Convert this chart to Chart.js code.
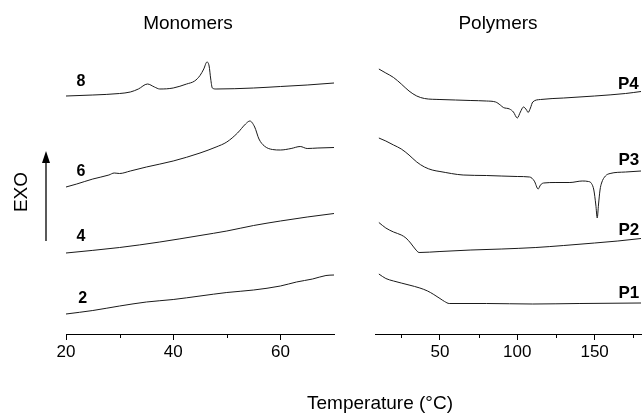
<!DOCTYPE html>
<html>
<head>
<meta charset="utf-8">
<script src="https://cdn.jsdelivr.net/npm/chart.js@4/dist/chart.umd.min.js"></script>
<style>
    body { margin: 0; background: #fff; }
    #wrap { position: relative; width: 642px; height: 416px; overflow: hidden; font-family: Arial, "Liberation Sans", sans-serif; }
    #wrap canvas { position: absolute; left: 0; top: 0; }
    .txt { position: absolute; font-size: 19px; color: #000; white-space: nowrap; transform: translate(-50%, -50%); }
</style>
</head>
<body>
<div id="wrap">
    <canvas id="mono" width="642" height="416"></canvas>
    <canvas id="poly" width="642" height="416"></canvas>
    <div class="txt" style="left:188px; top:23px;">Monomers</div>
    <div class="txt" style="left:498px; top:23px;">Polymers</div>
    <div class="txt" style="left:380px; top:403px;">Temperature (°C)</div>
    <div class="txt" style="left:21px; top:192px; transform: translate(-50%, -50%) rotate(-90deg);">EXO</div>
    <svg style="position:absolute; left:0; top:0;" width="642" height="416">
        <line x1="46" y1="162" x2="46" y2="241" stroke="#000" stroke-width="1.3"/>
        <polygon points="46,151 42,163 50,163" fill="#000"/>
    </svg>
</div>
<script>
// Monomers (left panel)
const m8T = [20, 25, 30, 32, 33.5, 35.2, 36.5, 37.5, 40, 42.5, 44, 45, 45.7, 46.3, 46.7, 47.0, 47.3, 48, 55, 60, 65, 70];
const m8Y = [238, 239, 240.5, 242, 245, 250, 247, 245, 246, 250, 253, 258.5, 265, 272, 268, 255, 246, 245, 246, 247.5, 249, 251];

const m6T = [20, 22, 25, 28, 29, 30, 32, 35, 40, 45, 48, 50, 52, 53.5, 54.3, 55.2, 56, 57, 58.5, 60, 62, 63.7, 65, 67, 70];
const m6Y = [147, 150, 155, 159, 161, 160.5, 163, 167, 173, 181, 187, 192, 201, 210, 213, 207, 195, 188, 184.5, 184, 185.5, 187.5, 185.5, 186, 186.5];

const m4T = [20, 30, 37.5, 45, 50, 55, 60, 65, 70];
const m4Y = [81, 86.5, 92, 98.5, 103, 108.5, 113, 117, 120.5];

const m2T = [20, 25, 30, 35, 40, 45, 50, 55, 60, 63, 66, 68.5, 70];
const m2Y = [20, 23.5, 28, 32, 34.5, 38, 41.5, 44, 48, 52, 55, 58.5, 59];

// Polymers (right panel)
const p4T = [10.5, 15, 20, 25, 30, 35, 40, 50, 60, 70, 80, 86, 89, 91, 95, 97.5, 100, 102, 104, 106, 107, 108.5, 110, 115, 130, 150, 170, 180];
const p4Y = [265, 261, 256.5, 250, 243, 238, 235.5, 234.5, 234, 233.5, 233, 232, 229, 226.5, 225, 222, 216, 222, 227, 224, 221.5, 226, 232, 234.5, 236, 238, 240.5, 242.5];

const p3T = [10.5, 15, 20, 25, 30, 35, 40, 45, 50, 65, 80, 100, 108, 111, 113.5, 115, 117, 125, 134, 142, 146, 148, 149.5, 150.8, 151.7, 152.5, 153.5, 154.5, 157, 160, 170, 180];
const p3Y = [196, 193, 189, 185, 179, 172, 167, 164, 162.5, 159, 158.5, 157.5, 157, 153, 145, 149, 151, 151.5, 151.5, 153, 152.5, 150.5, 144, 129, 116, 129, 144, 151, 158, 160.5, 162, 163];

const p2T = [10.5, 15, 20, 25, 28, 31, 34, 36.5, 50, 70, 90, 112, 130, 150, 165, 180];
const p2Y = [111.5, 106, 102, 99, 96, 91, 85, 81.5, 82.5, 84, 85, 86.5, 88.5, 91, 93, 95.5];

const p1T = [10.5, 15, 20, 30, 37, 42, 46, 50, 53, 56, 80, 110, 140, 180];
const p1Y = [60, 55.5, 53, 49, 46, 43, 39.5, 35.5, 32.5, 30.5, 30.5, 30, 30.5, 31];

// axis ticks
const monoMajor = [20, 40, 60];
const monoMinor = [30, 50];
const polyMajor = [50, 100, 150];
const polyMinor = [25, 75, 125, 175];

// curve names and where they sit (data units)
const monoNames = ['8', '6', '4', '2'];
const monoNameAt = [[22.8, 252], [22.8, 162.5], [22.8, 97.5], [23.1, 35]];
const polyNames = ['P4', 'P3', 'P2', 'P1'];
const polyNameAt = [[171.8, 249.5], [172.1, 174], [172.1, 104], [172.1, 40.7]];

const pts = (xs, ys) => xs.map((x, i) => ({ x, y: ys[i] }));

const lineStyle = {
    borderColor: '#1a1a1a',
    borderWidth: 1,
    pointRadius: 0,
    cubicInterpolationMode: 'monotone',
    fill: false
};

const extras = {
    id: 'extras',
    afterDraw(chart, args, opts) {
        const ctx = chart.ctx;
        const xs = chart.scales.x, ys = chart.scales.y;
        const bottom = chart.chartArea.bottom;
        ctx.save();
        ctx.strokeStyle = '#000';
        ctx.lineWidth = 1;
        opts.minor.forEach(v => {
            const px = Math.round(xs.getPixelForValue(v)) + 0.5;
            ctx.beginPath();
            ctx.moveTo(px, bottom);
            ctx.lineTo(px, bottom + 4);
            ctx.stroke();
        });
        ctx.fillStyle = '#000';
        ctx.font = 'bold ' + opts.fontSize + 'px Arial, "Liberation Sans", sans-serif';
        ctx.textAlign = 'center';
        ctx.textBaseline = 'middle';
        opts.names.forEach((n, i) => {
            ctx.fillText(n, xs.getPixelForValue(opts.at[i][0]), ys.getPixelForValue(opts.at[i][1]));
        });
        ctx.restore();
    }
};

function makeChart(id, sets, min, max, major, minor, names, at, pad, fontSize) {
    return new Chart(document.getElementById(id), {
        type: 'line',
        data: {
            datasets: sets.map(s => Object.assign({ data: s }, lineStyle))
        },
        options: {
            responsive: false,
            animation: false,
            layout: { padding: pad },
            plugins: {
                legend: { display: false },
                tooltip: { enabled: false },
                extras: { minor, names, at, fontSize }
            },
            scales: {
                x: {
                    type: 'linear',
                    min, max,
                    afterBuildTicks: s => { s.ticks = major.map(v => ({ value: v })); },
                    afterFit: s => { s.height = 82; },
                    grid: { drawOnChartArea: false, drawTicks: true, tickLength: 6, color: '#000' },
                    border: { display: true, color: '#000', width: 1 },
                    ticks: { color: '#000', padding: 2, font: { family: 'Arial, "Liberation Sans", sans-serif', size: 17 } }
                },
                y: { display: false, min: 0, max: 294 }
            }
        },
        plugins: [extras]
    });
}

makeChart('mono', [pts(m8T, m8Y), pts(m6T, m6Y), pts(m4T, m4Y), pts(m2T, m2Y)],
    20, 70, monoMajor, monoMinor, monoNames, monoNameAt,
    { left: 66, right: 308, top: 40, bottom: 0 }, 16);

makeChart('poly', [pts(p4T, p4Y), pts(p3T, p3Y), pts(p2T, p2Y), pts(p1T, p1Y)],
    8, 180, polyMajor, polyMinor, polyNames, polyNameAt,
    { left: 375, right: 1, top: 40, bottom: 0 }, 17);
</script>
</body>
</html>
